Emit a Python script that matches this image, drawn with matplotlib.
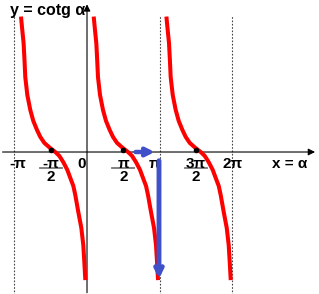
import numpy as np
import matplotlib.pyplot as plt

# one branch of y = cotg(a) (x in units of pi from the left asymptote)
branch_x = [0.092, 0.110, 0.128, 0.140, 0.151, 0.179, 0.220, 0.261, 0.312, 0.358, 0.413, 0.495,
            0.564, 0.619, 0.674, 0.729, 0.770, 0.812, 0.839, 0.880, 0.922, 0.949, 0.963, 0.977]
branch_y = [3.87, 3.48, 3.11, 2.63, 2.14, 1.63, 1.20, 0.89, 0.63, 0.43, 0.26, 0.11,
            0.0, -0.11, -0.29, -0.51, -0.74, -0.97, -1.23, -1.71, -2.17, -2.66, -3.14, -3.66]
branch_start = [-1, 0, 1]          # left asymptote of each branch, in units of pi
asymptotes = [-1, 1, 2]            # dotted lines, in units of pi
zeros = [-0.5, 0.5, 1.5]           # marked points on the x axis

simple_ticks = [(-1, '-π'), (0, '0'), (1, 'π'), (2, '2π')]
frac_ticks = [(-0.5, '-π'), (0.5, 'π'), (1.5, '3π')]

PI = np.pi
plt.rcParams['font.family'] = ['Liberation Sans', 'DejaVu Sans']

fig = plt.figure(figsize=(3.19, 2.94), dpi=100)
ax = fig.add_axes([0, 0, 1, 1])
ax.set_xlim(-1.1967 * PI, 3.191 * PI)
ax.set_ylim(-4.057, 4.343)
ax.axis('off')

# dotted asymptotes
for a in asymptotes:
    ax.plot([a * PI, a * PI], [-4.1, 3.9], color='#444444', lw=0.8, ls=(0, (1.5, 1.5)))

# axes with arrows
ax.annotate('', xy=(3.175 * PI, 0), xytext=(-1.2 * PI, 0),
            arrowprops=dict(arrowstyle='-|>', color='black', lw=0.8, mutation_scale=10))
ax.annotate('', xy=(0, 4.3), xytext=(0, -4.1),
            arrowprops=dict(arrowstyle='-|>', color='black', lw=0.8, mutation_scale=10))

# red branches
bx = np.array(branch_x)
by = np.array(branch_y)
for s in branch_start:
    ax.plot((s + bx) * PI, by, color='red', lw=2.9, solid_capstyle='butt',
            solid_joinstyle='round', zorder=3)

# zero points
ax.plot(np.array(zeros) * PI, [0.06] * len(zeros), 'o', color='black', ms=3, zorder=4)

tk = dict(fontsize=11, fontweight='bold', ha='center', va='center')
offs = {-1: 0.05, 0: -0.08, 1: -0.07, 2: 0}
for v, t in simple_ticks:
    ax.text((v + offs[v]) * PI, -0.33, t, **tk)
for v, t in frac_ticks:
    ax.text(v * PI, -0.33, t, **tk)
    ax.plot([(v - 0.15) * PI, (v + 0.15) * PI], [-0.47, -0.47], color='#777777', lw=1.3)
    ax.text(v * PI, -0.70, '2', **tk)

ax.text(2.79 * PI, -0.33, 'x = α', **tk)
ax.text(-0.06, 4.05, 'y = cotg α', fontsize=11.5, fontweight='bold', ha='right', va='center')

# blue arrows
blue = '#4050C8'
ax.annotate('', xy=(0.97 * PI, 0.0), xytext=(0.63 * PI, 0.0),
            arrowprops=dict(arrowstyle='->', color=blue, lw=3.2, mutation_scale=12), zorder=5)
ax.annotate('', xy=(0.99 * PI, -3.7), xytext=(0.99 * PI, -0.17),
            arrowprops=dict(arrowstyle='->', color=blue, lw=3.5, mutation_scale=12), zorder=5)

fig.savefig('out.png', dpi=100)
